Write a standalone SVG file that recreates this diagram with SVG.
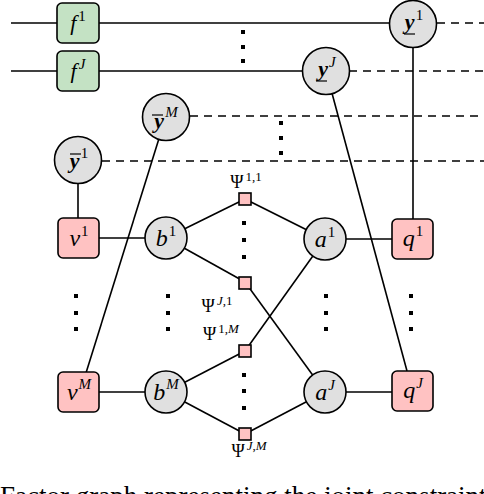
<svg xmlns="http://www.w3.org/2000/svg" width="484" height="494" viewBox="0 0 484 494">
<style>
.ln{stroke:#000;stroke-width:1.6;fill:none}
.dash{stroke-dasharray:8 6}
.circ{fill:#e0e0e0;stroke:#000;stroke-width:1.6}
.green{fill:#c4e2c4;stroke:#000;stroke-width:1.6}
.pink{fill:#ffc2c2;stroke:#000;stroke-width:1.6}
.t{font-family:"Liberation Serif",serif;fill:#000;text-anchor:middle}
.m{font-style:italic;font-size:24px}
.mf{font-style:italic;font-size:22px}
.b{font-style:italic;font-weight:bold;font-size:22px}
.s{font-size:15px}
.si{font-size:15px;font-style:italic}
.p{font-size:18px}
.ps{font-size:13px}
.psi{font-size:13px;font-style:italic}
.dot{fill:#000}
.ul{stroke:#000;stroke-width:1.2}
</style>
<g id="connectors">
  <line class="ln" x1="11" y1="23" x2="389" y2="23"/>
  <line class="ln" x1="11" y1="71" x2="303" y2="71"/>
  <line class="ln dash" x1="437" y1="23" x2="484" y2="23"/>
  <line class="ln dash" x1="349" y1="71" x2="484" y2="71"/>
  <line class="ln dash" x1="190" y1="116" x2="484" y2="116"/>
  <line class="ln dash" x1="102" y1="161" x2="484" y2="161"/>
  <line class="ln" x1="413" y1="47" x2="413" y2="219"/>
  <line class="ln" x1="78" y1="183" x2="78" y2="218"/>
  <line class="ln" x1="166" y1="116" x2="86" y2="373"/>
  <line class="ln" x1="326" y1="71" x2="407" y2="371"/>
  <line class="ln" x1="99" y1="238" x2="145" y2="238"/>
  <line class="ln" x1="346" y1="239" x2="392" y2="239"/>
  <line class="ln" x1="99" y1="392" x2="145" y2="392"/>
  <line class="ln" x1="346" y1="392" x2="392" y2="392"/>
  <line class="ln" x1="166" y1="238" x2="245" y2="199"/>
  <line class="ln" x1="166" y1="238" x2="245" y2="282"/>
  <line class="ln" x1="245" y1="199" x2="325" y2="239"/>
  <line class="ln" x1="245" y1="282" x2="325" y2="392"/>
  <line class="ln" x1="166" y1="392" x2="245" y2="351"/>
  <line class="ln" x1="166" y1="392" x2="245" y2="434"/>
  <line class="ln" x1="245" y1="351" x2="325" y2="239"/>
  <line class="ln" x1="245" y1="434" x2="325" y2="392"/>
</g>
<g id="dots">
  <rect class="dot" x="241" y="30" width="4" height="4"/>
  <rect class="dot" x="241" y="45" width="4" height="4"/>
  <rect class="dot" x="241" y="59" width="4" height="4"/>
  <rect class="dot" x="279" y="121" width="4" height="4"/>
  <rect class="dot" x="279" y="136" width="4" height="4"/>
  <rect class="dot" x="279" y="151" width="4" height="4"/>
  <rect class="dot" x="242" y="221" width="4" height="4"/>
  <rect class="dot" x="242" y="238" width="4" height="4"/>
  <rect class="dot" x="242" y="255" width="4" height="4"/>
  <rect class="dot" x="242" y="373" width="4" height="4"/>
  <rect class="dot" x="242" y="389" width="4" height="4"/>
  <rect class="dot" x="242" y="406" width="4" height="4"/>
  <rect class="dot" x="74" y="294" width="4" height="4"/>
  <rect class="dot" x="74" y="311" width="4" height="4"/>
  <rect class="dot" x="74" y="327" width="4" height="4"/>
  <rect class="dot" x="166" y="294" width="4" height="4"/>
  <rect class="dot" x="166" y="311" width="4" height="4"/>
  <rect class="dot" x="166" y="327" width="4" height="4"/>
  <rect class="dot" x="324" y="294" width="4" height="4"/>
  <rect class="dot" x="324" y="311" width="4" height="4"/>
  <rect class="dot" x="324" y="327" width="4" height="4"/>
  <rect class="dot" x="409" y="294" width="4" height="4"/>
  <rect class="dot" x="409" y="311" width="4" height="4"/>
  <rect class="dot" x="409" y="327" width="4" height="4"/>
</g>
<g id="f1"><rect class="green" x="57" y="3" width="42" height="40" rx="5"/><text class="t" x="78" y="30"><tspan class="mf">f</tspan><tspan class="s" dx="2" dy="-9">1</tspan></text></g>
<g id="fJ"><rect class="green" x="57" y="51" width="42" height="40" rx="5"/><text class="t" x="78" y="78"><tspan class="mf">f</tspan><tspan class="si" dx="2" dy="-9">J</tspan></text></g>
<g id="y1"><circle class="circ" cx="413" cy="24" r="23.5"/><text class="t" x="414" y="29"><tspan class="b">y</tspan><tspan class="s" dx="1" dy="-9">1</tspan></text><line class="ul" x1="404" y1="34" x2="415" y2="34"/></g>
<g id="yJ"><circle class="circ" cx="326" cy="71" r="23.5"/><text class="t" x="327" y="76"><tspan class="b">y</tspan><tspan class="si" dx="1" dy="-9">J</tspan></text><line class="ul" x1="316" y1="81" x2="327" y2="81"/></g>
<g id="ybarM"><circle class="circ" cx="166" cy="117" r="23.5"/><text class="t" x="166" y="128"><tspan class="b">y</tspan><tspan class="si" dx="1" dy="-11">M</tspan></text><line class="ul" x1="152" y1="115" x2="163" y2="115"/></g>
<g id="ybar1"><circle class="circ" cx="78" cy="160" r="23.5"/><text class="t" x="79" y="168"><tspan class="b">y</tspan><tspan class="s" dx="1" dy="-10">1</tspan></text><line class="ul" x1="70" y1="154" x2="81" y2="154"/></g>
<g id="v1"><rect class="pink" x="58" y="218" width="41" height="40" rx="5"/><text class="t" x="79" y="246"><tspan class="m">v</tspan><tspan class="s" dx="1" dy="-10">1</tspan></text></g>
<g id="vM"><rect class="pink" x="58" y="372" width="41" height="40" rx="5"/><text class="t" x="79" y="400"><tspan class="m">v</tspan><tspan class="si" dx="1" dy="-11">M</tspan></text></g>
<g id="q1"><rect class="pink" x="392" y="219" width="41" height="40" rx="5"/><text class="t" x="413" y="246"><tspan class="m">q</tspan><tspan class="s" dx="1" dy="-10">1</tspan></text></g>
<g id="qJ"><rect class="pink" x="392" y="371" width="41" height="40" rx="5"/><text class="t" x="413" y="398"><tspan class="m">q</tspan><tspan class="si" dx="1" dy="-10">J</tspan></text></g>
<g id="b1"><circle class="circ" cx="166" cy="238" r="21"/><text class="t" x="166" y="246"><tspan class="m">b</tspan><tspan class="s" dx="1" dy="-10">1</tspan></text></g>
<g id="bM"><circle class="circ" cx="166" cy="392" r="21"/><text class="t" x="166" y="400"><tspan class="m">b</tspan><tspan class="si" dx="1" dy="-11">M</tspan></text></g>
<g id="a1"><circle class="circ" cx="325" cy="239" r="21"/><text class="t" x="325" y="247"><tspan class="m">a</tspan><tspan class="s" dx="1" dy="-10">1</tspan></text></g>
<g id="aJ"><circle class="circ" cx="325" cy="392" r="21"/><text class="t" x="325" y="400"><tspan class="m">a</tspan><tspan class="si" dx="1" dy="-10">J</tspan></text></g>
<g id="psi11"><rect class="pink" x="239" y="193" width="12" height="12"/><text class="t" x="246" y="188"><tspan class="p">Ψ</tspan><tspan class="ps" dx="2" dy="-7">1,1</tspan></text></g>
<g id="psiJ1"><rect class="pink" x="239" y="277" width="12" height="12"/><text class="t" x="217" y="312"><tspan class="p">Ψ</tspan><tspan class="psi" dx="2" dy="-7">J</tspan><tspan class="ps">,1</tspan></text></g>
<g id="psi1M"><rect class="pink" x="239" y="345" width="12" height="12"/><text class="t" x="221" y="340"><tspan class="p">Ψ</tspan><tspan class="ps" dx="2" dy="-7">1,</tspan><tspan class="psi">M</tspan></text></g>
<g id="psiJM"><rect class="pink" x="239" y="428" width="12" height="12"/><text class="t" x="249" y="457"><tspan class="p">Ψ</tspan><tspan class="psi" dx="2" dy="-7">J</tspan><tspan class="ps">,</tspan><tspan class="psi">M</tspan></text></g>
<text x="0" y="505" style="font-family:'Liberation Serif',serif;font-size:27px;fill:#000">Factor graph representing the joint constraints</text>
</svg>
